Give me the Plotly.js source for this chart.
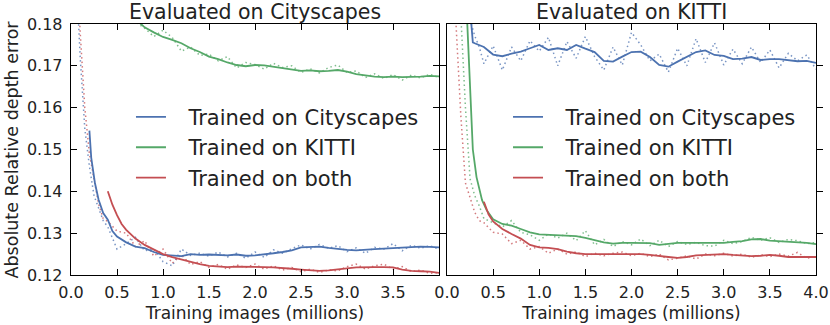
<!DOCTYPE html>
<html>
<head>
<meta charset="utf-8">
<script src="https://cdn.plot.ly/plotly-3.0.1.min.js"></script>
<style>
  html, body { margin: 0; padding: 0; background: #fff; }
  #chart { width: 830px; height: 325px; }
</style>
</head>
<body>
<div id="chart"></div>
<script>
// --- data ---
const seriesNames = ['Trained on Cityscapes', 'Trained on KITTI', 'Trained on both'];
const panelTitles = ['Evaluated on Cityscapes', 'Evaluated on KITTI'];
const yTicks = [0.12, 0.13, 0.14, 0.15, 0.16, 0.17, 0.18];
const xTicks = [0.0, 0.5, 1.0, 1.5, 2.0, 2.5, 3.0, 3.5, 4.0];

// raw (dotted) samples share one x grid
const rawX = [0.05, 0.1, 0.15, 0.2, 0.25, 0.3, 0.35, 0.4,
  0.5, 0.6, 0.7, 0.8, 0.9, 1.0, 1.1, 1.2, 1.3, 1.4, 1.5, 1.6, 1.7, 1.8, 1.9, 2.0,
  2.1, 2.2, 2.3, 2.4, 2.5, 2.6, 2.7, 2.8, 2.9, 3.0, 3.1, 3.2, 3.3, 3.4, 3.5, 3.6,
  3.7, 3.8, 3.9, 4.0];

// Evaluated on Cityscapes
const cityRawCity = [0.195, 0.172, 0.155, 0.146, 0.139, 0.136, 0.133, 0.1315,
  0.1262, 0.1275, 0.1290, 0.1258, 0.1262, 0.1232, 0.1222, 0.1262, 0.1247, 0.1252, 0.1245, 0.1255, 0.1243, 0.1252, 0.1240, 0.1255,
  0.1242, 0.1260, 0.1252, 0.1263, 0.1272, 0.1262, 0.1273, 0.1264, 0.1270, 0.1256, 0.1265, 0.1252, 0.1266, 0.1262, 0.1275, 0.1258,
  0.1271, 0.1264, 0.1270, 0.1262];
const cityRawKitti = [0.25, 0.23, 0.215, 0.205, 0.2, 0.195, 0.19, 0.188,
  0.185, 0.183, 0.1805, 0.1790, 0.1770, 0.1785, 0.1768, 0.1735, 0.1745, 0.1725, 0.1728, 0.1712, 0.1722, 0.1695, 0.1708, 0.1703,
  0.1692, 0.1706, 0.1696, 0.1700, 0.1684, 0.1693, 0.1683, 0.1696, 0.1702, 0.1684, 0.1688, 0.1672, 0.1681, 0.1670, 0.1679, 0.1666,
  0.1678, 0.1671, 0.1680, 0.1672];
const cityRawBoth = [0.20, 0.178, 0.160, 0.149, 0.143, 0.137, 0.1335, 0.1328,
  0.1305, 0.1300, 0.1268, 0.1282, 0.1245, 0.1262, 0.1228, 0.1248, 0.1225, 0.1232, 0.1218, 0.1225, 0.1214, 0.1224, 0.1218, 0.1226,
  0.1214, 0.1222, 0.1212, 0.1218, 0.1208, 0.1214, 0.1206, 0.1212, 0.1210, 0.1220, 0.1226, 0.1214, 0.1222, 0.1226, 0.1214, 0.1220,
  0.1208, 0.1212, 0.1204, 0.1206];

const citySmoothCityX = [0.2, 0.22, 0.26, 0.3, 0.35, 0.4, 0.45, 0.5, 0.6, 0.7, 0.8, 0.9, 1.0, 1.1, 1.2, 1.3, 1.4,
  1.5, 1.6, 1.7, 1.8, 1.9, 2.0, 2.1, 2.2, 2.3, 2.4, 2.5, 2.6, 2.7, 2.8, 2.9, 3.0, 3.1, 3.2, 3.3, 3.4, 3.5,
  3.6, 3.7, 3.8, 3.9, 4.0];
const citySmoothCity = [0.1545, 0.148, 0.142, 0.138, 0.1348, 0.1332, 0.1305, 0.1292, 0.1278, 0.1268, 0.1264, 0.1255,
  0.1248, 0.1247, 0.1245, 0.1250, 0.1248, 0.1249, 0.1248, 0.1247, 0.1249, 0.1246, 0.1247, 0.1249, 0.1252, 0.1255,
  0.1259, 0.1266, 0.1267, 0.1268, 0.1265, 0.1262, 0.1260, 0.1259, 0.1261, 0.1262, 0.1263, 0.1264, 0.1266, 0.1267,
  0.1268, 0.1267, 0.1266];
const citySmoothKittiX = [0.7, 0.8, 0.9, 1.0, 1.1, 1.2, 1.3, 1.4, 1.5, 1.6, 1.7, 1.8, 1.9, 2.0, 2.1, 2.2, 2.3, 2.4,
  2.5, 2.6, 2.7, 2.8, 2.9, 3.0, 3.1, 3.2, 3.3, 3.4, 3.5, 3.6, 3.7, 3.8, 3.9, 4.0];
const citySmoothKitti = [0.1812, 0.1792, 0.1780, 0.1769, 0.1762, 0.1754, 0.1742, 0.1733, 0.1722, 0.1716, 0.1708,
  0.1702, 0.1699, 0.1702, 0.1701, 0.1698, 0.1694, 0.1691, 0.1688, 0.1689, 0.1687, 0.1688, 0.1690, 0.1686, 0.1680,
  0.1677, 0.1674, 0.1673, 0.1674, 0.1673, 0.1673, 0.1674, 0.1676, 0.1675];
const citySmoothBothX = [0.4, 0.45, 0.5, 0.55, 0.6, 0.7, 0.8, 0.9, 1.0, 1.1, 1.2, 1.3, 1.4, 1.5, 1.6, 1.7, 1.8, 1.9,
  2.0, 2.1, 2.2, 2.3, 2.4, 2.5, 2.6, 2.7, 2.8, 2.9, 3.0, 3.1, 3.2, 3.3, 3.4, 3.5, 3.6, 3.7, 3.8, 3.9, 4.0];
const citySmoothBoth = [0.1400, 0.1368, 0.1343, 0.1322, 0.1308, 0.1287, 0.1272, 0.1260, 0.1250, 0.1243, 0.1237,
  0.1232, 0.1226, 0.1222, 0.1220, 0.1219, 0.1220, 0.1220, 0.1219, 0.1219, 0.1218, 0.1217, 0.1215, 0.1213, 0.1211,
  0.1210, 0.1211, 0.1214, 0.1216, 0.1218, 0.1219, 0.1219, 0.1219, 0.1218, 0.1213, 0.1210, 0.1209, 0.1208, 0.1205];

// Evaluated on KITTI
const kittiRawCity = [0.24, 0.22, 0.2, 0.188, 0.181, 0.1772, 0.1745, 0.1705,
  0.1748, 0.1690, 0.1745, 0.1712, 0.1760, 0.1735, 0.1768, 0.1700, 0.1758, 0.1718, 0.1770, 0.1722, 0.1690, 0.1745, 0.1702, 0.1780,
  0.1750, 0.1712, 0.1728, 0.1685, 0.1742, 0.1700, 0.1765, 0.1708, 0.1755, 0.1702, 0.1740, 0.1705, 0.1745, 0.1708, 0.1738, 0.1695,
  0.1730, 0.1712, 0.1726, 0.1692];
const kittiRawKitti = [0.23, 0.205, 0.182, 0.160, 0.143, 0.139, 0.1365, 0.1335,
  0.1325, 0.1315, 0.1330, 0.1302, 0.1296, 0.1283, 0.1298, 0.1288, 0.1300, 0.1282, 0.1306, 0.1272, 0.1285, 0.1268, 0.1280, 0.1272,
  0.1286, 0.1270, 0.1283, 0.1268, 0.1280, 0.1273, 0.1278, 0.1270, 0.1269, 0.1283, 0.1275, 0.1280, 0.1290, 0.1283, 0.1289, 0.1278,
  0.1285, 0.1282, 0.1275, 0.1278];
const kittiRawBoth = [0.20, 0.18, 0.158, 0.142, 0.1385, 0.1350, 0.1330, 0.1325,
  0.1302, 0.1298, 0.1275, 0.1283, 0.1262, 0.1268, 0.1252, 0.1262, 0.1250, 0.1255, 0.1244, 0.1252, 0.1246, 0.1252, 0.1255, 0.1246,
  0.1252, 0.1244, 0.1250, 0.1236, 0.1240, 0.1246, 0.1238, 0.1250, 0.1246, 0.1252, 0.1245, 0.1250, 0.1242, 0.1248, 0.1244, 0.1250,
  0.1245, 0.1254, 0.1240, 0.1245];

const kittiSmoothCityX = [0.26, 0.28, 0.3, 0.4, 0.5, 0.6, 0.7, 0.8, 0.9, 1.0, 1.1, 1.2, 1.3, 1.4, 1.5, 1.6, 1.7, 1.8,
  1.9, 2.0, 2.1, 2.2, 2.3, 2.4, 2.5, 2.6, 2.7, 2.8, 2.9, 3.0, 3.1, 3.2, 3.3, 3.4, 3.5, 3.6, 3.7, 3.8, 3.9, 4.0];
const kittiSmoothCity = [0.1810, 0.1756, 0.1754, 0.1745, 0.1727, 0.1723, 0.1729, 0.1734, 0.1742, 0.1750, 0.1738,
  0.1742, 0.1738, 0.1750, 0.1741, 0.1733, 0.1712, 0.1710, 0.1722, 0.1733, 0.1734, 0.1721, 0.1702, 0.1698, 0.1710,
  0.1722, 0.1733, 0.1737, 0.1726, 0.1724, 0.1716, 0.1717, 0.1721, 0.1714, 0.1716, 0.1716, 0.1714, 0.1711, 0.1712, 0.1707];
const kittiSmoothKittiX = [0.2, 0.22, 0.25, 0.28, 0.32, 0.38, 0.43, 0.5, 0.6, 0.7, 0.8, 0.9, 1.0, 1.1, 1.2, 1.3, 1.4,
  1.5, 1.6, 1.7, 1.8, 1.9, 2.0, 2.1, 2.2, 2.3, 2.4, 2.5, 2.6, 2.7, 2.8, 2.9, 3.0, 3.1, 3.2, 3.3, 3.4, 3.5, 3.6,
  3.7, 3.8, 3.9, 4.0];
const kittiSmoothKitti = [0.19, 0.18, 0.165, 0.150, 0.1434, 0.1379, 0.1355, 0.1333, 0.1322, 0.1318, 0.1310, 0.1302,
  0.1297, 0.1296, 0.1296, 0.1295, 0.1293, 0.1289, 0.1284, 0.1278, 0.1275, 0.1277, 0.1277, 0.1277, 0.1276, 0.1272,
  0.1275, 0.1277, 0.1277, 0.1277, 0.1276, 0.1277, 0.1277, 0.1279, 0.1281, 0.1285, 0.1286, 0.1282, 0.1281, 0.1280,
  0.1279, 0.1277, 0.1274];
const kittiSmoothBothX = [0.4, 0.45, 0.5, 0.6, 0.7, 0.8, 0.9, 1.0, 1.1, 1.2, 1.3, 1.4, 1.5, 1.6, 1.7, 1.8, 1.9, 2.0,
  2.1, 2.2, 2.3, 2.4, 2.5, 2.6, 2.7, 2.8, 2.9, 3.0, 3.1, 3.2, 3.3, 3.4, 3.5, 3.6, 3.7, 3.8, 3.9, 4.0];
const kittiSmoothBoth = [0.1375, 0.1345, 0.1328, 0.1310, 0.1298, 0.1287, 0.1272, 0.1266, 0.1265, 0.1262, 0.1256,
  0.1252, 0.1250, 0.1250, 0.1250, 0.1251, 0.1250, 0.1250, 0.1250, 0.1248, 0.1245, 0.1243, 0.1241, 0.1243, 0.1247,
  0.1248, 0.1249, 0.1250, 0.1248, 0.1246, 0.1245, 0.1246, 0.1248, 0.1246, 0.1243, 0.1243, 0.1243, 0.1243];

const colors = ['#4C72B0', '#55A868', '#C44E52'];

// --- traces ---
const FONT = 'DejaVu Sans, sans-serif';
// en space + third-em space: opens the gap between legend line and label
const LEGEND_PAD = '\u2002\u2004';

function rawTrace(y, color, xa) {
  return {
    x: rawX, y: y, xaxis: xa, yaxis: 'y', mode: 'lines', showlegend: false, hoverinfo: 'skip',
    opacity: 0.75,
    line: { color: color, width: 1.5, dash: '1.5px,3px' }
  };
}

function smoothTrace(x, y, i, xa, legend) {
  return {
    x: x, y: y, xaxis: xa, yaxis: 'y', mode: 'lines', name: LEGEND_PAD + seriesNames[i],
    legend: legend, legendgroup: legend + i,
    line: { color: colors[i], width: 1.8 }
  };
}

const traces = [
  rawTrace(cityRawCity, colors[0], 'x'),
  rawTrace(cityRawKitti, colors[1], 'x'),
  rawTrace(cityRawBoth, colors[2], 'x'),
  smoothTrace(citySmoothCityX, citySmoothCity, 0, 'x', 'legend'),
  smoothTrace(citySmoothKittiX, citySmoothKitti, 1, 'x', 'legend'),
  smoothTrace(citySmoothBothX, citySmoothBoth, 2, 'x', 'legend'),
  rawTrace(kittiRawCity, colors[0], 'x2'),
  rawTrace(kittiRawKitti, colors[1], 'x2'),
  rawTrace(kittiRawBoth, colors[2], 'x2'),
  smoothTrace(kittiSmoothCityX, kittiSmoothCity, 0, 'x2', 'legend2'),
  smoothTrace(kittiSmoothKittiX, kittiSmoothKitti, 1, 'x2', 'legend2'),
  smoothTrace(kittiSmoothBothX, kittiSmoothBoth, 2, 'x2', 'legend2')
];

// --- axes ---
function xAxis(domain, labels) {
  return {
    domain: domain, range: [0, 4], anchor: 'y',
    tickvals: xTicks,
    ticktext: xTicks.map((v, k) => (labels || k < xTicks.length - 1) ? v.toFixed(1) : ''),
    ticks: 'inside', ticklen: 6, tickwidth: 1, tickcolor: '#000',
    showline: true, linecolor: '#000', linewidth: 1.3, mirror: 'allticks',
    showgrid: false, zeroline: false, ticklabelstandoff: 2,
    tickfont: { family: FONT, size: 16, color: '#222' },
    title: { text: 'Training images (millions)', font: { family: FONT, size: 17, color: '#222' }, standoff: 6 }
  };
}

const legendBase = {
  font: { family: FONT, size: 21, color: '#222' },
  bgcolor: 'rgba(0,0,0,0)', borderwidth: 0,
  itemwidth: 30, tracegroupgap: 0, traceorder: 'grouped',
  xanchor: 'left', yanchor: 'top', y: 0.71
};

const layout = {
  width: 830, height: 325,
  margin: { l: 71, r: 14, t: 24, b: 50 },
  paper_bgcolor: '#fff', plot_bgcolor: '#fff',
  font: { family: FONT, color: '#222' },
  xaxis: xAxis([0, 0.494], false),
  xaxis2: xAxis([0.5047, 1], true),
  yaxis: {
    range: [0.12, 0.18], tickvals: yTicks, tickformat: '.2f',
    ticks: 'inside', ticklen: 6, tickwidth: 1, tickcolor: '#000',
    showline: true, linecolor: '#000', linewidth: 1.3, mirror: 'allticks',
    showgrid: false, zeroline: false, ticklabelstandoff: 4,
    tickfont: { family: FONT, size: 16, color: '#222' }
  },
  legend: Object.assign({ x: 0.0805 }, legendBase),
  legend2: Object.assign({ x: 0.5866 }, legendBase),
  annotations: [
    { text: panelTitles[0], xref: 'paper', yref: 'paper', x: 0.247, y: 1.046, xanchor: 'center', yanchor: 'middle',
      showarrow: false, borderpad: 0, font: { family: FONT, size: 20.5, color: '#222' } },
    { text: panelTitles[1], xref: 'paper', yref: 'paper', x: 0.7523, y: 1.046, xanchor: 'center', yanchor: 'middle',
      showarrow: false, borderpad: 0, font: { family: FONT, size: 20.5, color: '#222' } },
    { text: 'Absolute Relative depth error', xref: 'paper', yref: 'paper', x: -0.0792, y: 0.5, textangle: -90,
      xanchor: 'center', yanchor: 'middle', showarrow: false, font: { family: FONT, size: 17.5, color: '#222' } }
  ]
};

Plotly.newPlot('chart', traces, layout, { displayModeBar: false, staticPlot: true });
</script>
</body>
</html>
